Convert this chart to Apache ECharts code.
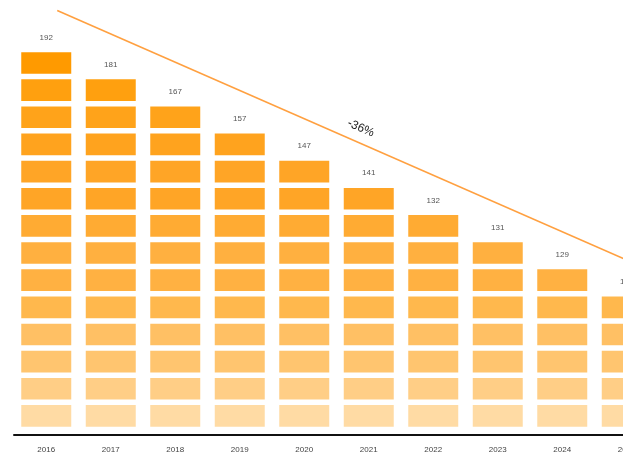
<!DOCTYPE html>
<html>
<head>
<meta charset="utf-8">
<script src="https://cdn.jsdelivr.net/npm/echarts@6/dist/echarts.min.js"></script>
<style>html,body{margin:0;padding:0;background:#fff}#c{width:623px;height:454px}</style>
</head>
<body>
<div id="c"></div>
<script>
// ---- data ----
const years = ['2016','2017','2018','2019','2020','2021','2022','2023','2024','2025'];
const values = [192, 181, 167, 157, 147, 141, 132, 131, 129, 123];
const blocks = [14, 13, 12, 11, 10, 9, 8, 7, 6, 5];
const trendLabel = '-36%';
const trendStart = [0.17, 15.43];   // [category position, block units]
const trendEnd = [9.41, 5.82];

// ---- styles ----
const rowColors = ['#FFDBA4','#FFCE86','#FFC56F','#FFC064','#FFB84D','#FFB142','#FFB040',
                   '#FFAB33','#FFA526','#FFA526','#FFA31E','#FFA31A','#FFA00F','#FF9A00'];
const maxRows = Math.max(...blocks);
const yMax = 16;            // headroom for the trend line
const rowPx = 27.15;        // pixel pitch per block
const gridBottom = 24.5;

const series = [];
for (let r = 0; r < maxRows; r++) {
  series.push({
    type: 'bar',
    stack: 'blocks',
    barWidth: 55.5,
    silent: true,
    itemStyle: { color: rowColors[r], borderColor: '#ffffff', borderWidth: 2.75 },
    data: blocks.map((b, i) => {
      if (b <= r) return '-';
      const item = { value: 1 };
      if (b === r + 1) {
        item.label = {
          show: true, position: 'top', distance: 8,
          formatter: String(values[i]),
          fontSize: 8, color: '#555', fontFamily: 'Liberation Sans'
        };
      }
      return item;
    })
  });
}
series.push({
  type: 'scatter',
  xAxisIndex: 1,
  clip: false,
  symbolSize: 0,
  silent: true,
  data: [trendStart, trendEnd],
  markLine: {
    silent: true,
    symbol: ['none', 'none'],
    lineStyle: { color: '#FFA040', width: 1.6, type: 'solid' },
    label: {
      show: true, position: 'middle', formatter: trendLabel, distance: 8,
      fontSize: 12, color: '#222', fontFamily: 'Liberation Sans'
    },
    data: [[{ coord: trendStart }, { coord: trendEnd }]]
  }
});

const chart = echarts.init(document.getElementById('c'));
chart.setOption({
  animation: false,
  backgroundColor: '#fff',
  grid: { left: 14, width: 645, height: yMax * rowPx, bottom: gridBottom, containLabel: false, outerBoundsMode: 'none' },
  xAxis: [
    {
      type: 'category', data: years, offset: 5, z: 10,
      axisLine: { onZero: false, lineStyle: { color: '#111', width: 2 } },
      axisTick: { show: false },
      axisLabel: { fontSize: 8, color: '#444', margin: 11, fontFamily: 'Liberation Sans' }
    },
    { type: 'value', min: -0.5, max: 9.5, show: false }
  ],
  yAxis: { type: 'value', min: 0, max: yMax, show: false },
  series: series
});
</script>
</body>
</html>
